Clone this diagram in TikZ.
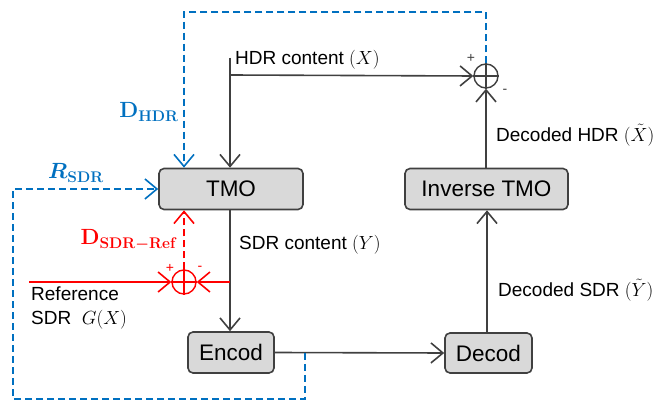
\RequirePackage{fix-cm}
\documentclass[tikz,border=0pt]{standalone}
\usepackage{amsmath}
\usepackage{bm}
\usepackage[no-math]{fontspec}
\setmainfont{Liberation Sans}
\usetikzlibrary{arrows.meta}
\definecolor{lc}{HTML}{404040}
\definecolor{bl}{HTML}{0070C0}
\definecolor{rd}{HTML}{FF0000}
\definecolor{bf}{HTML}{D9D9D9}
\begin{document}
\begin{tikzpicture}[x=1pt,y=-1pt,
  box/.style={draw=lc, fill=bf, line width=1.6pt, rounded corners=5pt, inner sep=0pt, minimum height=41pt, font=\fontsize{22.5}{24}\selectfont},
  tip/.style={-{Straight Barb[length=12pt,width=20pt,line width=1.6pt]}},
  conn/.style={draw=lc, line width=1.6pt, tip},
  rconn/.style={draw=rd, line width=1.6pt, tip},
  bdash/.style={draw=bl, line width=1.6pt, dash pattern=on 7pt off 4pt},
  rdash/.style={draw=rd, line width=1.6pt, dash pattern=on 7pt off 4pt},
  adder/.style={circle, draw=#1, line width=1.4pt, minimum size=24pt, inner sep=0pt},
  lbl/.style={font=\fontsize{19}{24}\selectfont, inner sep=0pt},
  sgn/.style={font=\fontsize{14}{14}\selectfont, inner sep=0pt},
  big/.style={inner sep=0pt, font=\fontsize{22}{24}\selectfont}
]
\useasboundingbox (0,0) rectangle (659,403);
% boxes
\node[box, minimum width=144pt] (tmo) at (231,189) {TMO};
\node[box, minimum width=163pt] (itmo) at (486.5,189) {Inverse TMO};
\node[box, minimum width=86pt] (enc) at (231,352.5) {Encod};
\node[box, minimum width=87pt, minimum height=40pt] (dec) at (488.5,353) {Decod};
% adders
\node[adder=lc] (addH) at (486,76) {};
\draw[lc, line width=1.4pt] (addH.north) -- (addH.south) (addH.west) -- (addH.east);
\node[adder=rd] (addR) at (184,282) {};
\draw[rd, line width=1.4pt] (addR.north) -- (addR.south) (addR.west) -- (addR.east);
% coordinates
\coordinate (hin) at (230,58);
\coordinate (hj) at (230,75);
\coordinate (rj) at (230,282);
\coordinate (refin) at (29,282);
\coordinate (btl) at (184,12);
\coordinate (btr) at (486,12);
\coordinate (bj) at (305,353);
\coordinate (bb1) at (305,399);
\coordinate (bb2) at (13,399);
\coordinate (bl1) at (13,189);
\coordinate (vx) at (487,0);
% black connectors
\draw[conn] (hin) -- (tmo.north -| hin);
\draw[conn] (hj) -- (addH.west);
\draw[conn] (tmo.south -| hin) -- (enc.north -| hin);
\draw[conn] (enc.east) -- (dec.west);
\draw[conn] (dec.north -| vx) -- (itmo.south -| vx);
\draw[conn] (itmo.north -| addH) -- (addH.south);
% red
\draw[rconn] (rj) -- (addR.east);
\draw[rconn] (refin) -- (addR.west);
\draw[rdash, tip] (addR.north) -- (addR |- tmo.south);
% blue
\draw[bdash, tip] (addH.north) -- (btr) -- (btl) -- (btl |- tmo.north);
\draw[bdash, tip] (bj) -- (bb1) -- (bb2) -- (bl1) -- (tmo.west);
% labels
\node[lbl, anchor=west] (lh) at (235,60) {HDR content $(X)$};
\node[lbl, anchor=west] (ls) at (239,245) {SDR content $(Y)$};
\node[lbl, anchor=west] (ldh) at (496,135) {Decoded HDR $(\tilde{X})$};
\node[lbl, anchor=west] (lds) at (498,290) {Decoded SDR $(\tilde{Y})$};
\node[lbl, anchor=west, align=left] (lref) at (31,308) {Reference\\SDR~~$G(X)$};
\node[big, text=bl] (dhdr) at (149,112) {$\mathbf{D}_{\mathbf{HDR}}$};
\node[big, text=bl] (rsdr) at (76,173) {$\bm{R}_{\mathbf{SDR}}$};
\node[big, text=rd] (dsr) at (129,240) {$\mathbf{D}_{\mathbf{SDR}\bm{-}\mathbf{Ref}}$};
\node[sgn, text=lc] (p1) at (471,58) {+};
\node[sgn, text=lc] (m1) at (505,91) {-};
\node[sgn, text=rd] (p2) at (170,268) {+};
\node[sgn, text=rd] (m2) at (200,268) {-};
\end{tikzpicture}
\end{document}
